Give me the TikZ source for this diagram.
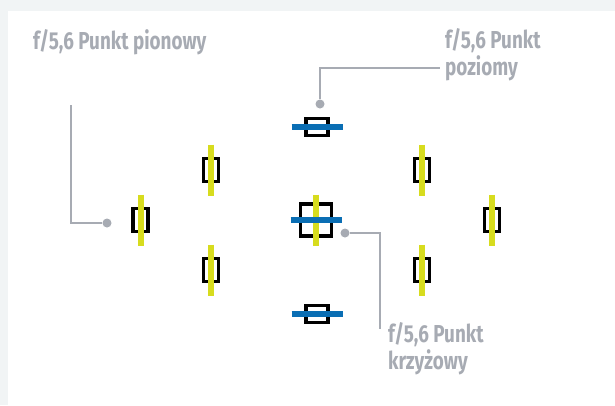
\documentclass[tikz,border=0pt]{standalone}
\usepackage{fontspec}
\newfontfamily\labelfont[FakeStretch=0.77]{Fira Sans}
\usetikzlibrary{positioning,calc}
\definecolor{pagegray}{RGB}{241,244,245}
\definecolor{notegray}{RGB}{167,171,179}
\definecolor{hbarblue}{RGB}{10,110,180}
\definecolor{vbaryellow}{RGB}{215,220,30}

\begin{document}
\begin{tikzpicture}[x=1pt, y=-1pt,
  vslit/.style={draw=black, line width=3.3pt, fill=white, inner sep=0pt,
    minimum width=15pt, minimum height=23pt},
  hslit/.style={draw=black, line width=3.3pt, fill=white, inner sep=0pt,
    minimum width=22pt, minimum height=17pt},
  crossslit/.style={draw=black, line width=3.3pt, fill=white, inner sep=0pt,
    minimum width=31pt, minimum height=32pt},
  ybar/.style={draw=vbaryellow, line width=6pt},
  bbar/.style={draw=hbarblue, line width=6pt},
  leader/.style={draw=notegray, line width=2.6pt},
  dot/.style={circle, fill=notegray, inner sep=0pt, minimum size=9pt},
  note/.style={text=notegray, inner sep=0pt, align=left,
    font=\labelfont\bfseries\fontsize{24.5}{27}\selectfont}
]
\fill[pagegray] (0,0) rectangle (615,405);
\fill[white] (8,11) rectangle (615,405);
\useasboundingbox (0,0) rectangle (615,405);

\node[vslit] (l) at (140.5,220) {};
\node[vslit] (ul) at (211,170) {};
\node[vslit] (ll) at (211,270) {};
\node[vslit] (ur) at (422,170) {};
\node[vslit] (lr) at (422,270) {};
\node[vslit] (r) at (492,220) {};
\node[hslit] (t) at (317,127) {};
\node[crossslit] (c) at (316,220) {};
\node[hslit] (b) at (317,314) {};

\foreach \n in {l,ul,ll,ur,lr,r,c}
  \draw[ybar] ([yshift=25.5]\n.center) -- ([yshift=-25.5]\n.center);
\foreach \n in {t,c,b}
  \draw[bbar] ([xshift=-25.5]\n.center) -- ([xshift=25.5]\n.center);

\node[dot] (pionDot) at (107,223) {};
\coordinate (pionEnd) at (71,105);
\draw[leader] (pionDot) -| (pionEnd);
\node[note, anchor=base west] (pionNote) at (33,49) {f/5,6 Punkt pionowy};

\node[dot] (pozDot) at (320,104) {};
\coordinate (pozEnd) at (440,68);
\draw[leader] (pozDot) |- (pozEnd);
\node[note, anchor=base west] (pozNote) at (445,75) {f/5,6 Punkt\\poziomy};

\node[dot] (krzDot) at (345,233) {};
\coordinate (krzEnd) at (380,329);
\draw[leader] (krzDot) -| (krzEnd);
\node[note, anchor=base west] (krzNote) at (388,369) {f/5,6 Punkt\\krzyżowy};
\end{tikzpicture}
\end{document}
